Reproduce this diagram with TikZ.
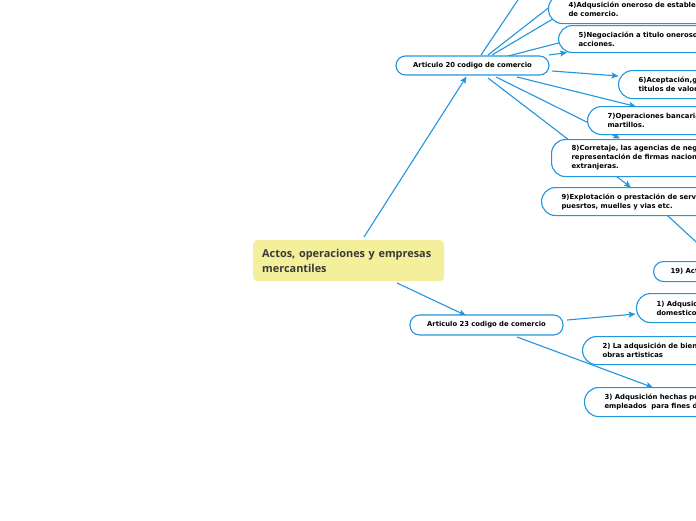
\documentclass[tikz,border=0pt]{standalone}
\usepackage{fontspec}
\setmainfont{DejaVu Sans}
\newfontfamily\centralfont{Open Sans}
\usetikzlibrary{arrows.meta}
\definecolor{mmblue}{HTML}{2196E0}
\definecolor{mmyellow}{HTML}{F3EF9B}
\definecolor{mmtext}{HTML}{3A3A3A}
\pgfdeclarelayer{back}
\pgfdeclarelayer{bg}
\pgfsetlayers{back,bg,main}
\begin{document}
\begin{tikzpicture}[x=1pt,y=-1pt,
  conn/.style={draw=mmblue,line width=1.1pt},
  arr/.style={conn,-{Stealth[length=7pt,width=6pt,inset=1.5pt]}},
  topic/.style={draw=mmblue,line width=1.1pt,fill=white,rounded corners=14pt,anchor=north west,align=left,text width=330pt,inner xsep=20pt,inner ysep=0pt,font=\bfseries\fontsize{6.9}{9}\selectfont},
  art/.style={draw=mmblue,line width=1.1pt,fill=white,rounded corners=9.5pt,minimum width=153pt,minimum height=19pt,inner sep=0pt,font=\bfseries\fontsize{6.8}{8}\selectfont},
  central/.style={fill=mmyellow,rounded corners=4pt,minimum width=191pt,minimum height=41pt,text width=173pt,inner xsep=9pt,inner ysep=0pt,anchor=north west,align=left,text=mmtext,font=\centralfont\bfseries\fontsize{10.9}{15}\selectfont}
]
\useasboundingbox (0,0) rectangle (696,520);
\begin{pgfonlayer}{back}
\fill[white] (0,0) rectangle (696,520);
\end{pgfonlayer}
\clip (0,0) rectangle (696,520);

% nodes
\node[central] (c) at (253,240) {Actos, operaciones y empresas\\mercantiles};
\node[art] (a20) at (472.5,65.5) {Articulo 20 codigo de comercio};
\node[art,minimum height=20pt] (a23) at (486.5,325) {Articulo 23 codigo de comercio};

\node[topic,minimum height=29pt] (b4) at (548,-6) {4)Adqusición oneroso de establecimientos\\de comercio.};
\node[topic,minimum height=27pt] (b5) at (558,25) {5)Negociación a titulo oneroso de\\acciones.};
\node[topic,minimum height=28pt] (b6) at (618,70) {6)Aceptación,giro\\titulos de valores};
\node[topic,minimum height=28pt] (b7) at (587,106) {7)Operaciones bancarias\\martillos.};
\node[topic,minimum height=37pt] (b8) at (551,139) {8)Corretaje, las agencias de negocios,\\representación de firmas nacionales\\extranjeras.};
\node[topic,minimum height=28pt] (b9) at (541,187) {9)Explotación o prestación de servicios\\puesrtos, muelles y vias etc.};
\node[topic,minimum height=20pt,rounded corners=10pt,inner xsep=17pt] (b19) at (653,261) {19) Actos};
\node[topic,minimum height=29pt] (b1) at (636,293) {1) Adqusición\\domesticos};
\node[topic,minimum height=28pt] (b2) at (582,336) {2) La adqusición de bienes\\obras artisticas};
\node[topic,minimum height=29pt] (b3) at (584,387) {3) Adqusición hechas por\\empleados\ \ para fines de};

% connector end points
\coordinate (cTop) at (364,237);
\coordinate (a20In) at (466.5,76.5);
\coordinate (cBot) at (397,283);
\coordinate (a23In) at (466,315.5);
\coordinate (p1) at (481,55);   \coordinate (q1) at (530,-18);
\coordinate (p2) at (488,55);   \coordinate (q2) at (565,-5);
\coordinate (p3) at (492,55);   \coordinate (q3) at (568,10);
\coordinate (p4) at (508,56);   \coordinate (q4) at (578,38);
\coordinate (p5) at (549,55);   \coordinate (q5) at (567,52.5);
\coordinate (p6) at (552,71);   \coordinate (q6) at (618.5,76);
\coordinate (p7) at (517,77);   \coordinate (q7) at (636,106.5);
\coordinate (p8) at (496,77);   \coordinate (q8) at (620,138.5);
\coordinate (p9) at (488,78);   \coordinate (q9) at (631,187.5);
\coordinate (p10) at (655,204); \coordinate (q10) at (720,264);
\coordinate (r1) at (567,320);  \coordinate (s1) at (635.5,314);
\coordinate (r2) at (517,337);  \coordinate (s2) at (653,387.5);

\begin{pgfonlayer}{bg}
\clip (0,0) rectangle (696,520);
\draw[arr] (cTop) -- (a20In);
\draw[arr] (cBot) -- (a23In);
\draw[conn] (p1) -- (q1);
\draw[conn] (p2) -- (q2);
\draw[conn] (p3) -- (q3);
\draw[conn] (p4) -- (q4);
\draw[arr] (p5) -- (q5);
\draw[arr] (p6) -- (q6);
\draw[arr] (p7) -- (q7);
\draw[arr] (p8) -- (q8);
\draw[arr] (p9) -- (q9);
\draw[conn] (p10) -- (q10);
\draw[arr] (r1) -- (s1);
\draw[arr] (r2) -- (s2);
\end{pgfonlayer}
\end{tikzpicture}
\end{document}
